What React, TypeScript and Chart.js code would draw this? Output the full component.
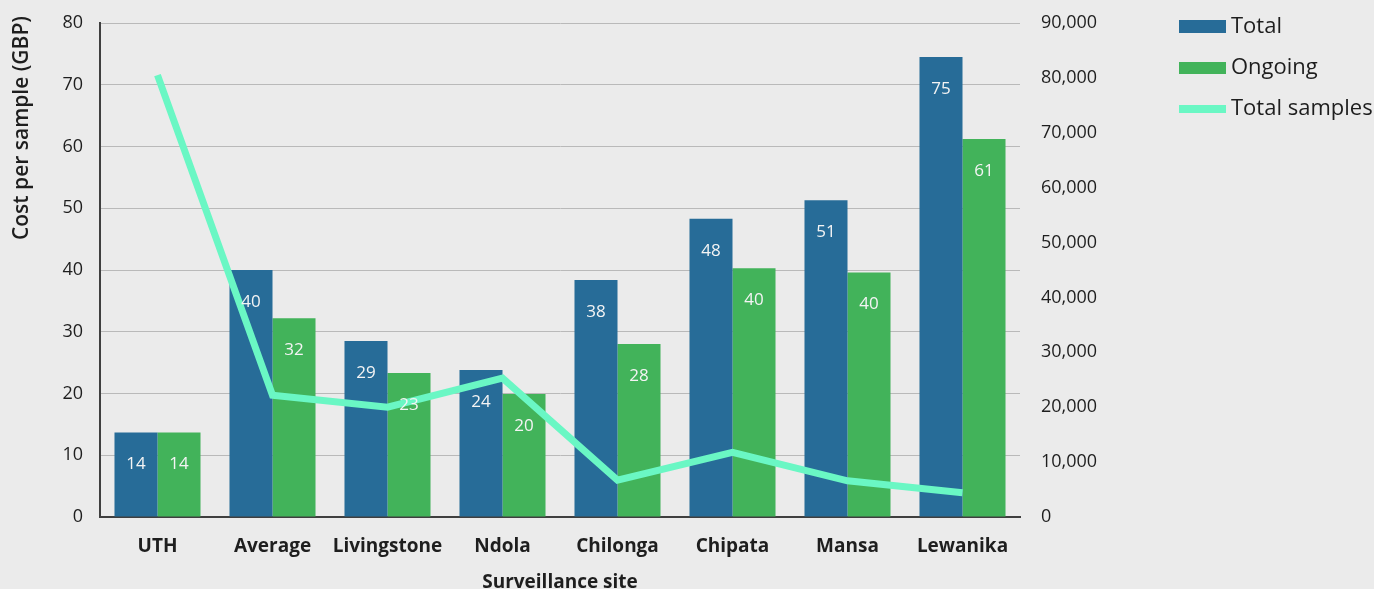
import React, { useEffect, useRef } from "react";
import { Chart, registerables } from "chart.js";

Chart.register(...registerables);

const categories = ["UTH", "Average", "Livingstone", "Ndola", "Chilonga", "Chipata", "Mansa", "Lewanika"];
const totalCost = [13.7, 40.0, 28.5, 23.8, 38.4, 48.3, 51.3, 74.5];
const ongoingCost = [13.7, 32.2, 23.3, 19.9, 28.0, 40.3, 39.6, 61.2];
const totalSamples = [80500, 22200, 20000, 25300, 6700, 11800, 6600, 4400];
const costTicks = [0, 10, 20, 30, 40, 50, 60, 70, 80];
const sampleTicks = [0, 10000, 20000, 30000, 40000, 50000, 60000, 70000, 80000, 90000];

const FONT = "'Open Sans', Lato, sans-serif";
const BLUE = "#276c98";
const GREEN = "#42b35a";
const MINT = "#6af7c4";
const TEXT = "#1e1e1e";

const valueLabels = {
  id: "valueLabels",
  afterDatasetsDraw(chart: any) {
    const ctx = chart.ctx;
    ctx.save();
    ctx.font = `17px ${FONT}`;
    ctx.fillStyle = "#f4f4f4";
    ctx.textAlign = "center";
    ctx.textBaseline = "middle";
    [0, 1].forEach((di) => {
      const meta = chart.getDatasetMeta(di);
      meta.data.forEach((bar: any, i: number) => {
        const v = chart.data.datasets[di].data[i] as number;
        const drop = Math.min(32, (bar.base - bar.y) / 2);
        ctx.fillText(String(Math.round(v)), bar.x, bar.y + drop);
      });
    });
    ctx.restore();
  },
};

const yTitle = {
  id: "yTitle",
  afterDraw(chart: any) {
    const ctx = chart.ctx;
    ctx.save();
    ctx.translate(28, 128);
    ctx.rotate(-Math.PI / 2);
    ctx.font = `600 21px ${FONT}`;
    ctx.fillStyle = TEXT;
    ctx.textAlign = "center";
    ctx.textBaseline = "alphabetic";
    ctx.fillText("Cost per sample (GBP)", 0, 0);
    ctx.restore();
  },
};

export default function App() {
  const ref = useRef<HTMLCanvasElement | null>(null);

  useEffect(() => {
    if (!ref.current) return;
    const chart = new Chart(ref.current, {
      type: "bar",
      data: {
        labels: categories,
        datasets: [
          {
            type: "bar",
            label: "Total",
            data: totalCost,
            backgroundColor: BLUE,
            yAxisID: "y",
            order: 2,
            categoryPercentage: 0.748,
            barPercentage: 1,
          },
          {
            type: "bar",
            label: "Ongoing",
            data: ongoingCost,
            backgroundColor: GREEN,
            yAxisID: "y",
            order: 2,
            categoryPercentage: 0.748,
            barPercentage: 1,
          },
          {
            type: "line",
            label: "Total samples",
            data: totalSamples,
            borderColor: MINT,
            backgroundColor: MINT,
            borderWidth: 7,
            pointRadius: 0,
            tension: 0,
            yAxisID: "y1",
            order: 1,
          } as any,
        ],
      },
      options: {
        responsive: false,
        animation: false,
        layout: { padding: { top: 23, right: 0, left: 0, bottom: 0 } },
        plugins: {
          legend: { display: false },
          tooltip: { enabled: false },
        },
        scales: {
          x: {
            grid: { display: false, drawTicks: false },
            border: { display: true, color: "#3f3f3f", width: 2 },
            ticks: {
              color: TEXT,
              font: { family: FONT, size: 19, weight: "bold" },
              padding: 18,
              maxRotation: 0,
            },
            title: {
              display: true,
              text: "Surveillance site",
              color: TEXT,
              font: { family: FONT, size: 19, weight: "bold", lineHeight: 1 },
              padding: { top: 0, bottom: -3 },
            },
            afterFit(scale: any) {
              scale.height = 72;
              scale.paddingLeft = 0;
              scale.paddingRight = 0;
            },
          },
          y: {
            position: "left",
            min: 0,
            max: 80,
            afterBuildTicks(scale: any) {
              scale.ticks = costTicks.map((v) => ({ value: v }));
            },
            grid: { color: "#b9b9b9", lineWidth: 1, drawTicks: false },
            border: { display: true, color: "#3f3f3f", width: 2 },
            ticks: {
              color: TEXT,
              font: { family: FONT, size: 18 },
              padding: 17,
            },
            afterFit(scale: any) {
              scale.width = 100;
              scale.paddingTop = 0;
              scale.paddingBottom = 0;
            },
          },
          y1: {
            position: "right",
            min: 0,
            max: 90000,
            afterBuildTicks(scale: any) {
              scale.ticks = sampleTicks.map((v) => ({ value: v }));
            },
            grid: { display: false, drawTicks: false },
            border: { display: false },
            ticks: {
              color: TEXT,
              font: { family: FONT, size: 18 },
              padding: 21,
              callback: (v: any) => Number(v).toLocaleString("en-US"),
            },
            afterFit(scale: any) {
              scale.width = 354;
              scale.paddingTop = 0;
              scale.paddingBottom = 0;
            },
          },
        },
      },
      plugins: [valueLabels, yTitle],
    });
    return () => chart.destroy();
  }, []);

  const legendItems = [
    { label: "Total", color: BLUE, boxTop: 20, boxH: 13, textTop: 12.5 },
    { label: "Ongoing", color: GREEN, boxTop: 62, boxH: 12, textTop: 53.5 },
    { label: "Total samples", color: MINT, boxTop: 105, boxH: 8, textTop: 94.5 },
  ];

  return (
    <div
      style={{
        position: "fixed",
        left: 0,
        top: 0,
        width: 1374,
        height: 589,
        background: "#ebebeb",
        overflow: "hidden",
      }}
    >
      <canvas ref={ref} width={1374} height={589} style={{ position: "absolute", left: 0, top: 0 }} />
      {legendItems.map((it) => (
        <div key={it.label}>
          <div
            style={{
              position: "absolute",
              left: 1179,
              top: it.boxTop,
              width: 47,
              height: it.boxH,
              background: it.color,
            }}
          />
          <div
            style={{
              position: "absolute",
              left: 1231,
              top: it.textTop,
              height: 22,
              lineHeight: "22px",
              fontFamily: FONT,
              fontSize: 22,
              color: TEXT,
              whiteSpace: "nowrap",
            }}
          >
            {it.label}
          </div>
        </div>
      ))}
    </div>
  );
}
